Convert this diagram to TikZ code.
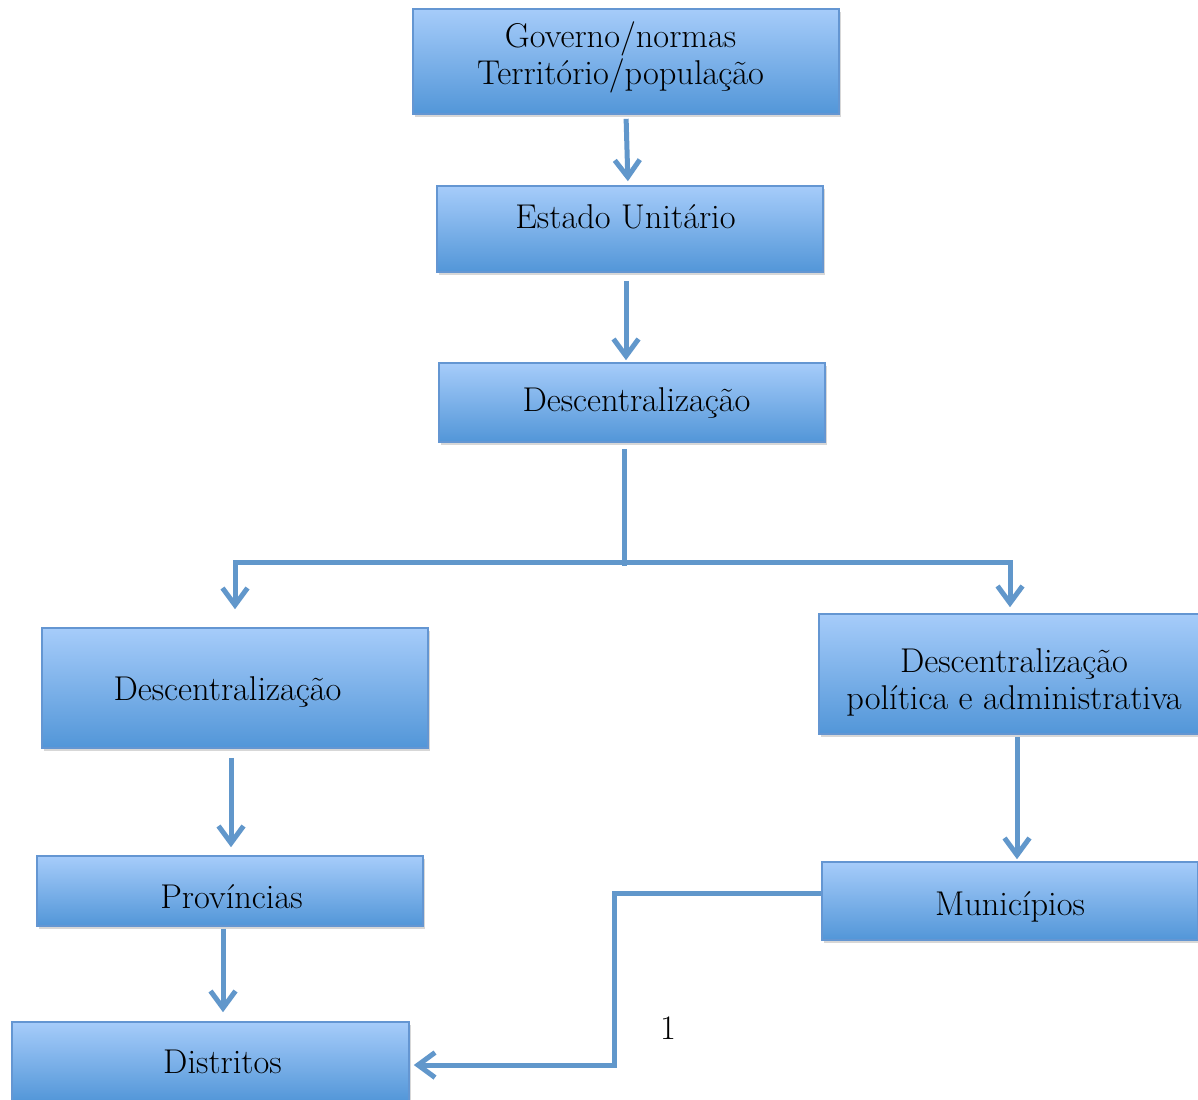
\documentclass[tikz,border=0pt]{standalone}
\usetikzlibrary{arrows.meta,shadows,calc}
\definecolor{boxtop}{RGB}{166,204,250}
\definecolor{boxbot}{RGB}{82,150,216}
\definecolor{boxline}{RGB}{100,150,210}
\definecolor{linecol}{RGB}{97,151,203}
\newcommand{\twolines}[2]{\begin{tabular}{@{}c@{}}#1\\#2\end{tabular}}
\newcommand{\shiftv}[2]{\raisebox{#1}[\height][\depth]{#2}}
\begin{document}
\begin{tikzpicture}[x=0.5pt,y=-0.5pt,
  box/.style={draw=boxline, line width=0.8pt, top color=boxtop, bottom color=boxbot,
    align=center, font=\fontsize{17.2}{18.5}\selectfont, inner sep=0pt,
    drop shadow={shadow xshift=0.8pt, shadow yshift=-1.6pt, opacity=0.22, fill=black!70}},
  connector/.style={draw=linecol, line width=2.5pt},
  arrowed/.style={connector, -{Straight Barb[length=8.5pt,width=12.5pt,line width=2.5pt]}}]
\useasboundingbox (0,0) rectangle (1198,1099);
\fill[white] (0,0) rectangle (1198,1099);

\node[box, minimum width=213pt, minimum height=52.5pt] (gov) at (626,61.5) {\shiftv{1.5pt}{\twolines{Governo/normas}{Território/população}}\hspace*{5.5pt}};
\node[box, minimum width=193pt, minimum height=43pt] (est) at (630,229) {\shiftv{6pt}{Estado Unitário}\hspace*{4.5pt}};
\node[box, minimum width=193pt, minimum height=39.5pt] (desc) at (632,402.5) {\hspace*{4.5pt}Descentralização};
\node[box, minimum width=193pt, minimum height=60pt] (descL) at (235,688) {\shiftv{-2pt}{Descentralização}\hspace*{7.5pt}};
\node[box, minimum width=195pt, minimum height=60pt] (descR) at (1014,674) {\shiftv{-5pt}{\twolines{Descentralização}{política e administrativa}}};
\node[box, minimum width=193pt, minimum height=35pt] (prov) at (230,891) {\hspace*{1.5pt}\shiftv{-3pt}{Províncias}};
\node[box, minimum width=188pt, minimum height=39pt] (mun) at (1010,901) {\shiftv{-3pt}{Municípios}};
\node[box, minimum width=198.5pt, minimum height=40pt] (dist) at (210.5,1062) {\hspace*{12pt}Distritos};
\node[font=\fontsize{17.2}{18.5}\selectfont] (one) at (668,1028) {1};

\coordinate (j) at (624,562);
\coordinate (k) at (614,893);

\draw[arrowed, shorten <=2pt, shorten >=2pt] (gov.south) -- ([xshift=-1pt]est.north);
\draw[arrowed, shorten <=4pt, shorten >=1pt] ([xshift=-2pt]est.south) -- ([xshift=-3pt]desc.north);
\draw[connector, shorten <=3pt, shorten >=-2pt] ([xshift=-4pt]desc.south) -- (j);
\draw[arrowed, shorten >=9pt] (j) -| (descL.north);
\draw[arrowed, shorten >=3pt] (j) -| ([xshift=-2pt]descR.north);
\draw[arrowed, shorten <=1pt, shorten >=1pt] ([xshift=1.5pt]descR.south) -- ([xshift=1.5pt]descR.south |- mun.north);
\draw[arrowed, shorten <=4.5pt, shorten >=4pt] ([xshift=-2pt]descL.south) -- ([xshift=-2pt]descL.south |- prov.north);
\draw[arrowed, shorten <=1pt, shorten >=4.5pt] ([xshift=-3.5pt]prov.south) -- ([xshift=-3.5pt]prov.south |- dist.north);
\draw[arrowed, shorten >=2pt] ([yshift=4pt]mun.west) -- (k) |- ([yshift=-1.5pt]dist.east);
\end{tikzpicture}
\end{document}
